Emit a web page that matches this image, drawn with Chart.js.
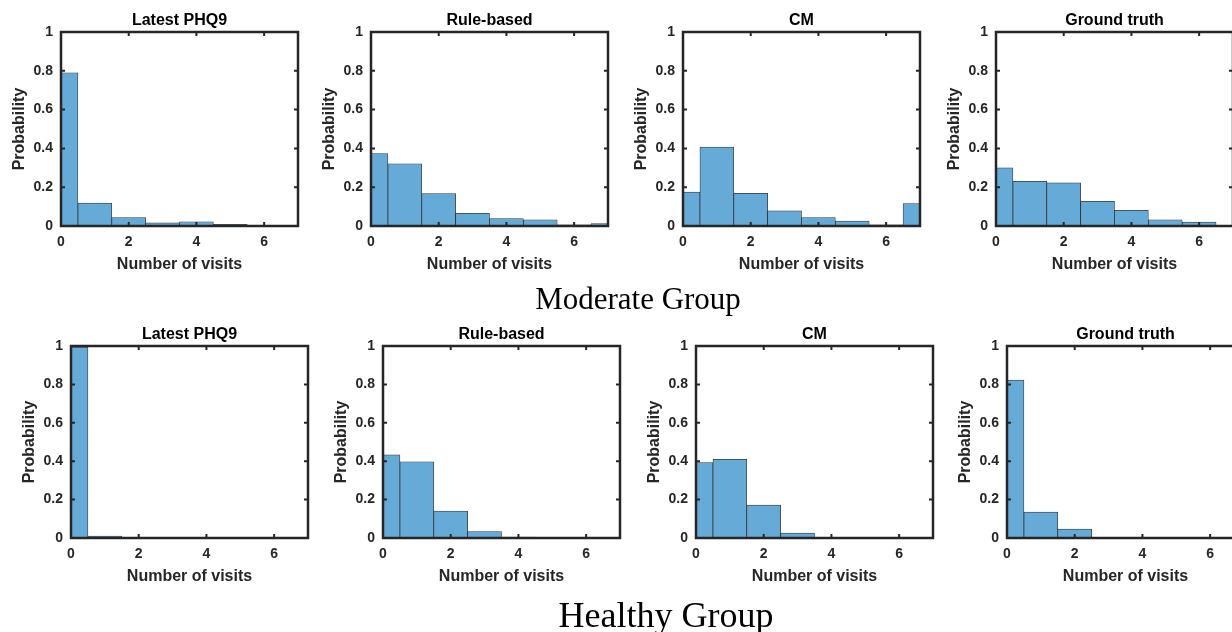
<!DOCTYPE html>
<html><head><meta charset="utf-8">
<script src="https://cdn.jsdelivr.net/npm/chart.js@4.4.1/dist/chart.umd.min.js"></script>
<style>
html,body{margin:0;padding:0;background:#fff;width:1232px;height:632px;overflow:hidden;position:relative}
canvas{position:absolute}
.grp{position:absolute;font-family:"Liberation Serif","Times New Roman",serif;color:#000;white-space:nowrap;line-height:1;transform:translateX(-50%)}
</style></head><body>
<script>
// ---------------- data ----------------
const bins = [0, 1, 2, 3, 4, 5, 6, 7];
const xTickValues = [0, 2, 4, 6];
const xTickLabels = ['0', '2', '4', '6'];
const yTickValues = [0, 0.2, 0.4, 0.6, 0.8, 1];
const yTickLabels = ['0', '0.2', '0.4', '0.6', '0.8', '1'];
const methodTitles = ['Latest PHQ9', 'Rule-based', 'CM', 'Ground truth'];
const groupNames = ['Moderate Group', 'Healthy Group'];
const xAxisTitle = 'Number of visits';
const yAxisTitle = 'Probability';

const moderatePHQ9  = [0.790, 0.118, 0.043, 0.016, 0.022, 0.008, 0.003, 0.002];
const moderateRule  = [0.373, 0.321, 0.167, 0.065, 0.038, 0.032, 0.006, 0.012];
const moderateCM    = [0.175, 0.407, 0.168, 0.078, 0.044, 0.026, 0.006, 0.115];
const moderateTruth = [0.300, 0.230, 0.222, 0.127, 0.081, 0.032, 0.020, 0.000];

const healthyPHQ9  = [0.995, 0.010, 0.003, 0.002, 0.000, 0.000, 0.000, 0.000];
const healthyRule  = [0.433, 0.397, 0.140, 0.033, 0.005, 0.000, 0.000, 0.000];
const healthyCM    = [0.393, 0.410, 0.172, 0.026, 0.003, 0.002, 0.002, 0.003];
const healthyTruth = [0.822, 0.135, 0.047, 0.000, 0.000, 0.000, 0.000, 0.000];

const groups = [
  [moderatePHQ9, moderateRule, moderateCM, moderateTruth],
  [healthyPHQ9, healthyRule, healthyCM, healthyTruth]
];

// ---------------- layout ----------------
const rowLayout = [
  {axTop: 32,  axH: 194, lefts: [61, 371, 683, 996],  labelTop: 283, labelSize: 31, labelX: 638},
  {axTop: 346, axH: 192, lefts: [71, 383, 696, 1007], labelTop: 597, labelSize: 36, labelX: 666}
];
const AX_W = 237, Y_W = 60, X_H = 60, TOP_H = 32, RIGHT_PAD = 10;
const FONT = '"Liberation Sans", Arial, Helvetica, sans-serif';
const AXCOL = '#262626';

const framePlugin = {
  id: 'frame',
  afterDatasetsDraw(chart) {
    const {ctx, chartArea: a, scales: {x, y}} = chart;
    ctx.save();
    ctx.strokeStyle = AXCOL;
    ctx.lineWidth = 2;
    const L = 4;
    ctx.beginPath();
    xTickValues.forEach(v => {
      const px = x.getPixelForValue(v);
      ctx.moveTo(px, a.bottom); ctx.lineTo(px, a.bottom - L);
      ctx.moveTo(px, a.top); ctx.lineTo(px, a.top + L);
    });
    yTickValues.forEach(v => {
      const py = y.getPixelForValue(v);
      ctx.moveTo(a.left, py); ctx.lineTo(a.left + L, py);
      ctx.moveTo(a.right, py); ctx.lineTo(a.right - L, py);
    });
    ctx.stroke();
    ctx.lineWidth = 2.5;
    ctx.strokeRect(a.left, a.top, a.right - a.left, a.bottom - a.top);
    ctx.restore();
  }
};

function makePanel(row, col) {
  const lay = rowLayout[row];
  const vals = groups[row][col];
  const cv = document.createElement('canvas');
  const w = Y_W + AX_W + RIGHT_PAD, h = TOP_H + lay.axH + X_H;
  cv.width = w; cv.height = h;
  cv.style.left = (lay.lefts[col] - Y_W) + 'px';
  cv.style.top = (lay.axTop - TOP_H) + 'px';
  cv.style.width = w + 'px'; cv.style.height = h + 'px';
  document.body.appendChild(cv);
  new Chart(cv, {
    type: 'bar',
    data: {
      datasets: [{
        data: bins.map((b, i) => ({x: b, y: vals[i]})),
        backgroundColor: 'rgb(102,170,215)',
        borderColor: 'rgba(20,20,20,0.85)',
        borderWidth: 0.75,
        borderSkipped: false,
        barPercentage: 1,
        categoryPercentage: 1,
        grouped: false,
        clip: 0
      }]
    },
    options: {
      responsive: false,
      animation: false,
      devicePixelRatio: 1,
      layout: {padding: {left: 0, right: RIGHT_PAD, top: 0, bottom: 0}},
      plugins: {
        legend: {display: false},
        tooltip: {enabled: false},
        title: {
          display: true, text: methodTitles[col], color: '#000', fullSize: false,
          font: {family: FONT, size: 16, weight: 'bold'},
          padding: {top: 11, bottom: 1.8}
        }
      },
      scales: {
        x: {
          type: 'linear', min: 0, max: 7, offset: false,
          afterBuildTicks: s => { s.ticks = xTickValues.map(v => ({value: v})); },
          afterFit: s => { s.height = X_H; },
          grid: {display: false, drawTicks: false},
          border: {display: false},
          ticks: {padding: 8, color: AXCOL, maxRotation: 0, autoSkip: false,
                  font: {family: FONT, size: 14, weight: 'bold'},
                  callback: (v, i) => xTickLabels[i]},
          title: {display: true, text: xAxisTitle, color: AXCOL,
                  font: {family: FONT, size: 16, weight: 'bold'},
                  padding: {top: 0, bottom: 12}}
        },
        y: {
          type: 'linear', min: 0, max: 1, position: 'left',
          afterBuildTicks: s => { s.ticks = yTickValues.map(v => ({value: v})); },
          afterFit: s => { s.width = Y_W; },
          grid: {display: false, drawTicks: false},
          border: {display: false},
          ticks: {padding: 8, color: AXCOL, autoSkip: false,
                  font: {family: FONT, size: 14, weight: 'bold'},
                  callback: (v, i) => yTickLabels[i]},
          title: {display: true, text: yAxisTitle, color: AXCOL,
                  font: {family: FONT, size: 16, weight: 'bold'},
                  padding: {top: 9, bottom: 0}}
        }
      }
    },
    plugins: [framePlugin]
  });
}

for (let r = 0; r < 2; r++) {
  for (let c = 0; c < 4; c++) makePanel(r, c);
  const d = document.createElement('div');
  d.className = 'grp';
  d.textContent = groupNames[r];
  d.style.left = rowLayout[r].labelX + 'px';
  d.style.top = rowLayout[r].labelTop + 'px';
  d.style.fontSize = rowLayout[r].labelSize + 'px';
  document.body.appendChild(d);
}
</script>
</body></html>
